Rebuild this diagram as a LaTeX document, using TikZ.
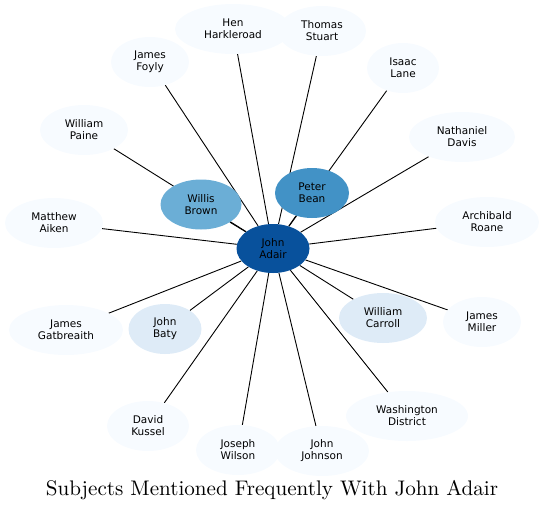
\documentclass[tikz,border=0pt]{standalone}
\usepackage{fontspec}
\usepackage{tikz}
\usetikzlibrary{shapes.geometric,backgrounds}
\newfontfamily\labelfont{DejaVu Sans}
\newfontfamily\titlefont{lmroman10-regular}[Extension=.otf]
\definecolor{bluesPale}{HTML}{F7FBFF}
\definecolor{bluesLight}{HTML}{DEEBF7}
\definecolor{bluesMid}{HTML}{6BAED6}
\definecolor{bluesStrong}{HTML}{4292C6}
\definecolor{bluesDeep}{HTML}{08519C}

\begin{document}
\begin{tikzpicture}[
  x=1pt, y=-1pt,
  every node/.style={font=\labelfont\fontsize{10.5}{12}\selectfont},
  subject/.style={
    ellipse,
    fill=#1,
    inner sep=0pt,
    align=center,
    minimum height=50pt
  },
  link/.style={line width=0.9pt}
]
  \useasboundingbox (0,0) rectangle (545,512);
  \node[subject=bluesDeep, minimum width=73pt, minimum height=49pt] (adair) at (273,248.5) {John\\Adair};
  \node[subject=bluesMid, minimum width=81pt] (brown) at (201,204.5) {Willis\\Brown};
  \node[subject=bluesStrong, minimum width=74pt] (bean) at (312,193) {Peter\\Bean};
  \node[subject=bluesPale, minimum width=116pt] (harkleroad) at (233,29) {Hen\\Harkleroad};
  \node[subject=bluesPale, minimum width=88pt] (stuart) at (322,31) {Thomas\\Stuart};
  \node[subject=bluesPale, minimum width=78pt] (foyly) at (150,62) {James\\Foyly};
  \node[subject=bluesPale, minimum width=72pt] (lane) at (403,68) {Isaac\\Lane};
  \node[subject=bluesPale, minimum width=88pt] (paine) at (84,130) {William\\Paine};
  \node[subject=bluesPale, minimum width=106pt] (davis) at (462,137) {Nathaniel\\Davis};
  \node[subject=bluesPale, minimum width=98pt] (aiken) at (54,223) {Matthew\\Aiken};
  \node[subject=bluesPale, minimum width=104pt] (roane) at (487,222) {Archibald\\Roane};
  \node[subject=bluesPale, minimum width=114pt] (gatbreaith) at (66,330) {James\\Gatbreaith};
  \node[subject=bluesLight, minimum width=73pt] (baty) at (165,329) {John\\Baty};
  \node[subject=bluesLight, minimum width=88pt] (carroll) at (383,318) {William\\Carroll};
  \node[subject=bluesPale, minimum width=78pt] (miller) at (482,322) {James\\Miller};
  \node[subject=bluesPale, minimum width=82pt] (kussel) at (148,426) {David\\Kussel};
  \node[subject=bluesPale, minimum width=122pt] (washington) at (407,416) {Washington\\District};
  \node[subject=bluesPale, minimum width=84pt] (wilson) at (238,450) {Joseph\\Wilson};
  \node[subject=bluesPale, minimum width=94pt] (johnson) at (322,451) {John\\Johnson};
  \begin{pgfonlayer}{background}
    \foreach \who in {brown,bean,harkleroad,stuart,foyly,lane,paine,davis,aiken,roane,
      gatbreaith,baty,carroll,miller,kussel,washington,wilson,johnson}
      \draw[link] (adair) -- (\who);
  \end{pgfonlayer}
  \node[font=\titlefont\fontsize{21.1}{24}\selectfont] (title) at (272,490) {Subjects Mentioned Frequently With John Adair};
\end{tikzpicture}
\end{document}
